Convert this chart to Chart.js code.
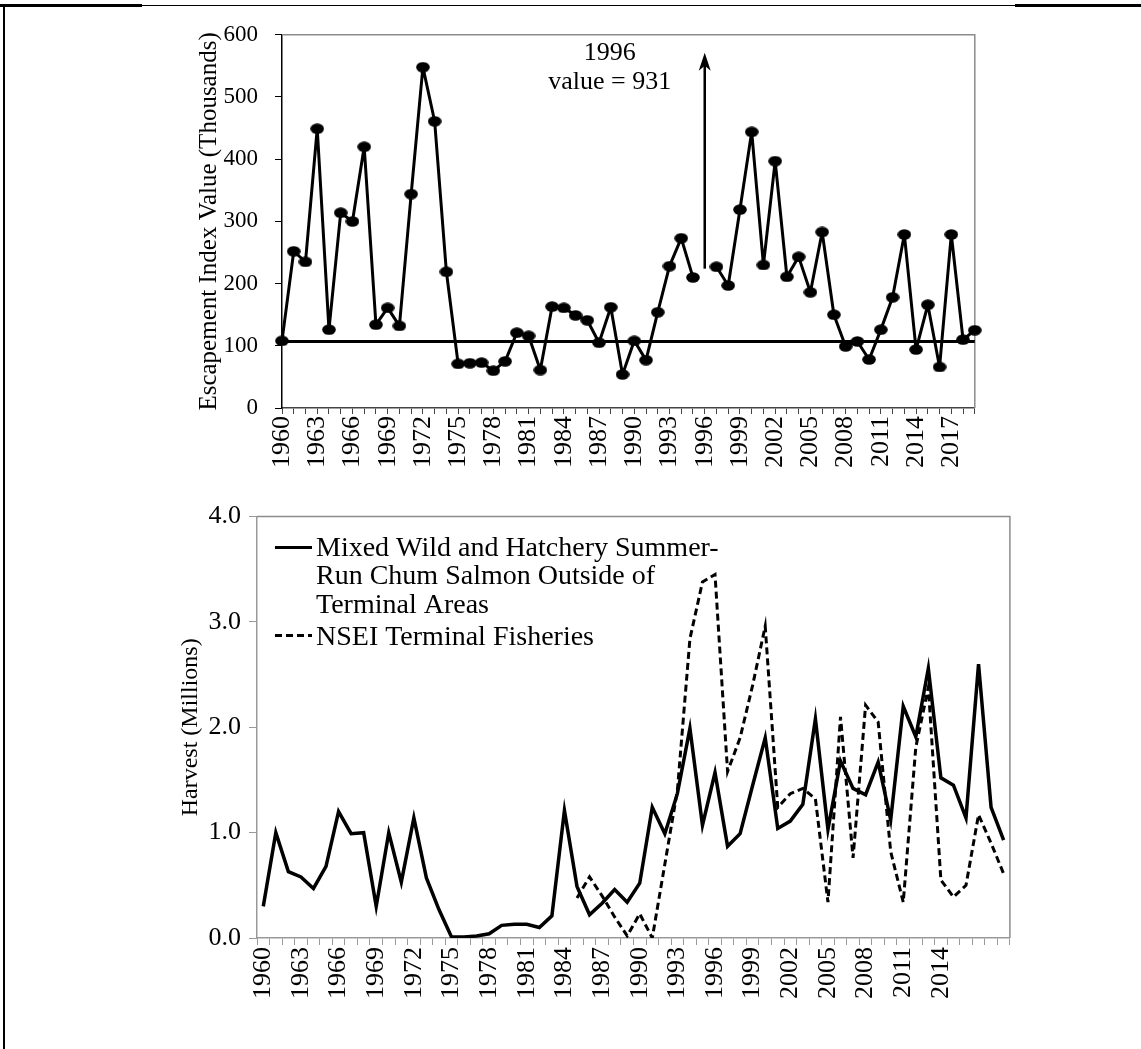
<!DOCTYPE html>
<html>
<head>
<meta charset="utf-8">
<script src="https://cdn.jsdelivr.net/npm/chart.js@4"></script>
<style>
  body { margin: 0; background: #fff; width: 1141px; height: 1049px; position: relative; overflow: hidden; }
  .frame { position: absolute; left: 3px; top: 5px; width: 1141px; height: 1049px; border-left: 2px solid #000; border-top: 1px solid #000; }
  .thick { position: absolute; top: 4px; height: 3px; background: #000; }
  .box { position: absolute; }
</style>
</head>
<body>
<div class="frame"></div>
<div class="thick" style="left:0;width:142px"></div>
<div class="thick" style="left:1015px;width:126px"></div>
<div class="box" style="left:150px;top:4px;width:858px;height:496px"><canvas id="escChart"></canvas></div>
<div class="box" style="left:150px;top:493px;width:887px;height:556px"><canvas id="harvChart"></canvas></div>
<script>
// Jahre 1960 - 2019
const years = [];
for (let y = 1960; y <= 2019; y++) years.push(String(y));

// Escapement index (tausend), 1996 ausserhalb der Skala (931)
const escapement = [108, 252, 235, 449, 126, 314, 300, 420, 134, 161,
  132, 344, 548, 461, 219, 71, 72, 73, 60, 75,
  121, 116, 61, 163, 161, 149, 141, 105, 162, 54,
  108, 77, 154, 228, 273, 210, null, 227, 197, 319,
  444, 230, 397, 211, 243, 186, 283, 150, 99, 107,
  78, 126, 178, 279, 94, 166, 66, 279, 110, 125];
const escGoal = 107;
const offScaleYear = '1996';
const offScaleValue = 931;
const escTicks = [0, 100, 200, 300, 400, 500, 600];

// Harvest (Millionen)
const mixedHarvest = [0.30, 1.00, 0.63, 0.58, 0.47, 0.68, 1.20, 0.99, 1.00, 0.30,
  1.00, 0.53, 1.14, 0.57, 0.27, 0.01, 0.01, 0.02, 0.04, 0.12,
  0.13, 0.13, 0.10, 0.21, 1.21, 0.49, 0.22, 0.33, 0.46, 0.34,
  0.52, 1.24, 0.99, 1.37, 1.99, 1.07, 1.57, 0.87, 0.99, 1.45,
  1.90, 1.04, 1.11, 1.27, 2.08, 1.03, 1.68, 1.42, 1.36, 1.67,
  1.12, 2.20, 1.91, 2.56, 1.52, 1.45, 1.14, 2.60, 1.24, 0.93];
const terminalHarvest = [null, null, null, null, null, null, null, null, null, null,
  null, null, null, null, null, null, null, null, null, null,
  null, null, null, null, null, 0.38, 0.58, 0.40, 0.20, 0.02,
  0.23, 0.00, 0.70, 1.40, 2.84, 3.38, 3.45, 1.58, 1.90, 2.40,
  2.96, 1.24, 1.37, 1.42, 1.32, 0.34, 2.10, 0.76, 2.21, 2.05,
  0.82, 0.34, 1.81, 2.38, 0.55, 0.39, 0.50, 1.17, 0.90, 0.61];
const legendMixed = ['Mixed Wild and Hatchery Summer-', 'Run Chum Salmon Outside of', 'Terminal Areas'];
const legendTerminal = ['NSEI Terminal Fisheries'];

const serif = '"Liberation Serif", "Times New Roman", serif';

// elliptischer Marker
const dot = document.createElement('canvas');
dot.width = 14; dot.height = 11;
(function () {
  const c = dot.getContext('2d');
  c.fillStyle = '#000';
  c.beginPath();
  c.ellipse(7, 5.5, 6.8, 5.2, 0, 0, Math.PI * 2);
  c.fill();
})();

// graue Rahmenlinien oben und rechts
const framePlugin = {
  id: 'frame',
  beforeDatasetsDraw(chart, args, opts) {
    const a = chart.chartArea, ctx = chart.ctx;
    ctx.save();
    ctx.strokeStyle = opts.color || '#888';
    ctx.lineWidth = 1.5;
    ctx.beginPath();
    ctx.moveTo(a.left, a.top);
    ctx.lineTo(a.right, a.top);
    ctx.lineTo(a.right, a.bottom);
    ctx.stroke();
    ctx.restore();
  }
};

// Ziellinie, Pfeil und Beschriftung fuer 1996
const escExtras = {
  id: 'escExtras',
  beforeDatasetsDraw(chart) {
    const {ctx, chartArea: a, scales} = chart;
    const y = scales.y.getPixelForValue(escGoal);
    ctx.save();
    ctx.strokeStyle = '#000';
    ctx.lineWidth = 3;
    ctx.beginPath();
    ctx.moveTo(a.left, y);
    ctx.lineTo(a.right, y);
    ctx.stroke();

    const x = scales.x.getPixelForValue(years.indexOf(offScaleYear));
    const y0 = scales.y.getPixelForValue(224);
    const y1 = scales.y.getPixelForValue(571);
    ctx.lineWidth = 2.5;
    ctx.beginPath();
    ctx.moveTo(x, y0);
    ctx.lineTo(x, y1 + 6);
    ctx.stroke();
    ctx.fillStyle = '#000';
    ctx.beginPath();
    ctx.moveTo(x, y1);
    ctx.lineTo(x - 6, y1 + 18);
    ctx.lineTo(x, y1 + 13);
    ctx.lineTo(x + 6, y1 + 18);
    ctx.closePath();
    ctx.fill();

    ctx.font = '26px ' + serif;
    ctx.textAlign = 'center';
    ctx.textBaseline = 'middle';
    ctx.fillText(offScaleYear, x - 95, a.top + 18);
    ctx.fillText('value = ' + offScaleValue, x - 95, a.top + 47);
    ctx.restore();
  }
};

const escChart = new Chart(document.getElementById('escChart'), {
  type: 'line',
  data: {
    labels: years,
    datasets: [{
      data: escapement,
      borderColor: '#000',
      borderWidth: 3,
      borderJoinStyle: 'round',
      pointStyle: dot,
      pointRadius: 6,
      spanGaps: false,
      tension: 0
    }]
  },
  options: {
    responsive: true,
    maintainAspectRatio: false,
    animation: false,
    layout: { padding: { top: 14, right: 25, left: 0, bottom: 0 } },
    plugins: { legend: { display: false }, tooltip: { enabled: false }, frame: { color: '#8c8c8c' } },
    scales: {
      x: {
        type: 'category',
        offset: false,
        grid: { display: true, drawOnChartArea: false, drawTicks: true, tickLength: 6, color: '#444', offset: false },
        border: { color: '#444', width: 1.5 },
        ticks: {
          autoSkip: false, minRotation: 90, maxRotation: 90, padding: 2,
          color: '#000', font: { family: serif, size: 26 },
          callback: (v, i) => (i % 3 === 0 ? years[i] : '')
        },
        afterFit: s => { s.height = 92; }
      },
      y: {
        min: 0, max: 600,
        afterBuildTicks: s => { s.ticks = escTicks.map(v => ({ value: v })); },
        grid: { display: true, drawOnChartArea: false, tickLength: 7, color: '#000' },
        border: { color: '#000', width: 1.5 },
        ticks: { color: '#000', padding: 17, font: { family: serif, size: 23 } },
        title: {
          display: true, text: 'Escapement Index Value (Thousands)',
          color: '#000', font: { family: serif, size: 25 }, padding: { top: 44, bottom: 0 }
        },
        afterFit: s => { s.width = 132; }
      }
    }
  },
  plugins: [framePlugin, escExtras]
});

// Legende im Diagramm (mehrzeilig)
const harvLegend = {
  id: 'harvLegend',
  afterDatasetsDraw(chart) {
    const {ctx, chartArea: a} = chart;
    ctx.save();
    ctx.strokeStyle = '#000';
    ctx.lineWidth = 3;
    ctx.beginPath();
    ctx.moveTo(a.left + 18, a.top + 31);
    ctx.lineTo(a.left + 55, a.top + 31);
    ctx.stroke();
    ctx.setLineDash([7, 4]);
    ctx.beginPath();
    ctx.moveTo(a.left + 18, a.top + 119);
    ctx.lineTo(a.left + 55, a.top + 119);
    ctx.stroke();
    ctx.fillStyle = '#000';
    ctx.font = '28px ' + serif;
    ctx.textAlign = 'left';
    ctx.textBaseline = 'alphabetic';
    legendMixed.forEach((t, i) => ctx.fillText(t, a.left + 59, a.top + 39 + i * 28.7));
    ctx.fillText(legendTerminal[0], a.left + 59, a.top + 128);
    ctx.restore();
  }
};

const harvChart = new Chart(document.getElementById('harvChart'), {
  type: 'line',
  data: {
    labels: years,
    datasets: [{
      label: legendMixed.join(' '),
      data: mixedHarvest,
      borderColor: '#000',
      borderWidth: 3.5,
      pointRadius: 0,
      tension: 0
    }, {
      label: legendTerminal[0],
      data: terminalHarvest,
      borderColor: '#000',
      borderWidth: 3,
      borderDash: [7, 4],
      pointRadius: 0,
      tension: 0
    }]
  },
  options: {
    responsive: true,
    maintainAspectRatio: false,
    animation: false,
    layout: { padding: { top: 16, right: 20, left: 0, bottom: 0 } },
    plugins: { legend: { display: false }, tooltip: { enabled: false }, frame: { color: '#8c8c8c' } },
    scales: {
      x: {
        type: 'category',
        offset: true,
        grid: { display: true, drawOnChartArea: false, tickLength: 7, color: '#999', offset: true },
        border: { color: '#999', width: 1.5 },
        ticks: {
          autoSkip: false, minRotation: 90, maxRotation: 90, padding: 2,
          color: '#000', font: { family: serif, size: 26 },
          callback: (v, i) => (i % 3 === 0 && i <= 54 ? years[i] : '')
        },
        afterFit: s => { s.height = 111; }
      },
      y: {
        min: 0, max: 4,
        ticks: { stepSize: 1, color: '#000', padding: 8, font: { family: serif, size: 26 }, callback: v => v.toFixed(1) },
        grid: { display: true, drawOnChartArea: false, tickLength: 8, color: '#999' },
        border: { color: '#999', width: 1.5 },
        title: {
          display: true, text: 'Harvest (Millions)',
          color: '#000', font: { family: serif, size: 24 }, padding: { top: 26, bottom: 0 }
        },
        afterFit: s => { s.width = 107; }
      }
    }
  },
  plugins: [framePlugin, harvLegend]
});
</script>
</body>
</html>
